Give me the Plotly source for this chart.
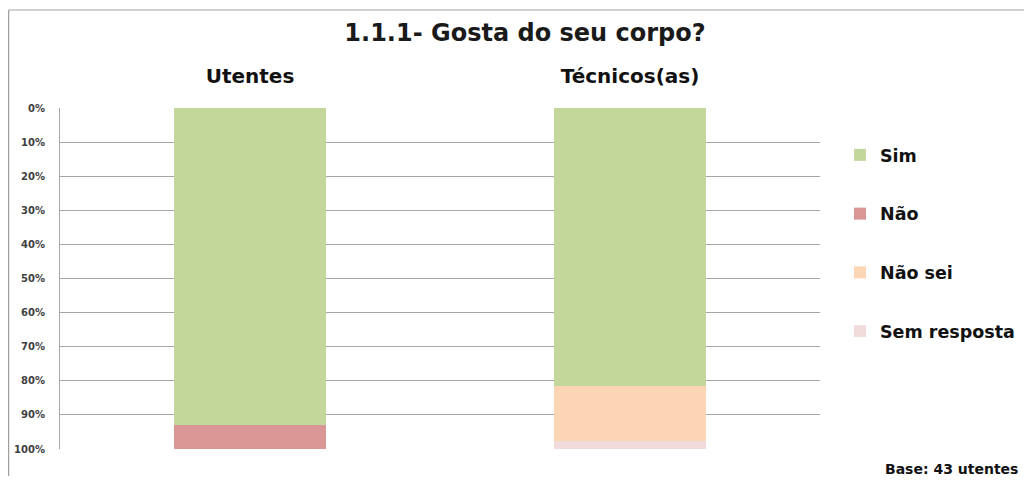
import plotly.graph_objects as go

categories = ["Utentes", "Técnicos(as)"]
series_names = ["Sim", "Não", "Não sei", "Sem resposta"]
sim = [93.0, 81.4]
nao = [7.0, 0.0]
nao_sei = [0.0, 16.3]
sem_resposta = [0.0, 2.3]
y_ticks = [0, 10, 20, 30, 40, 50, 60, 70, 80, 90, 100]
y_tick_labels = [f"{t}%" for t in y_ticks]
colors = ["#C4D79B", "#DA9694", "#FCD5B4", "#F2DCDB"]

# page has an 8px body margin; figure coordinates = page coordinates - 8
OFF = 8
W, H = 1016, 468
ML, MT = 60 - OFF, 108 - OFF
MR = W - (820 - OFF)
MB = H - (449 - OFF)
PW, PH = W - ML - MR, H - MT - MB

FONT = "DejaVu Sans, sans-serif"

fig = go.Figure()
for name, vals, col in zip(series_names, [sim, nao, nao_sei, sem_resposta], colors):
    fig.add_trace(go.Bar(
        x=categories, y=vals, name=f"<b>{name}</b>", marker_color=col,
        marker_line_width=0, width=0.4, legendgroup=name,
        hovertemplate=name + ": %{y}%<extra></extra>",
    ))

def px_x(px):
    return (px - OFF - ML) / PW

def px_y(py):
    return (H - MB - (py - OFF)) / PH

fig.update_layout(
    width=W, height=H,
    margin=dict(l=ML, r=MR, t=MT, b=MB, autoexpand=False),
    barmode="stack",
    plot_bgcolor="white", paper_bgcolor="white",
    title=dict(text="<b>1.1.1- Gosta do seu corpo?</b>", x=px_x(525), xref="paper",
               xanchor="center", y=1 - (33 - OFF) / H, yanchor="middle",
               font=dict(family=FONT, size=24, color="#1a1a1a")),
    xaxis=dict(side="top", showgrid=False, showline=False, ticks="",
               tickvals=categories, ticktext=[f"<b>{c}</b>" for c in categories],
               tickfont=dict(family=FONT, size=20, color="#111"),
               ticklabelstandoff=20, range=[-0.5, 1.5], automargin=False),
    yaxis=dict(range=[100, 0], tickvals=y_ticks,
               ticktext=[f"<b>{t}</b>" for t in y_tick_labels],
               showgrid=True, gridcolor="#A6A6A6", gridwidth=1,
               showline=True, linecolor="#A6A6A6", linewidth=1, zeroline=False,
               ticks="", ticklabelstandoff=12, automargin=False,
               tickfont=dict(family=FONT, size=10, color="#404040")),
    legend=dict(x=px_x(840), y=px_y(137), xanchor="left", yanchor="top",
                traceorder="grouped", tracegroupgap=33,
                font=dict(family=FONT, size=17.5, color="#111"),
                itemwidth=30, bgcolor="rgba(0,0,0,0)"),
    showlegend=True,
)

# outer frame lines (left and top)
fig.add_shape(type="line", xref="paper", yref="paper",
              x0=px_x(8.5), x1=px_x(8.5), y0=px_y(10), y1=px_y(484),
              line=dict(color="#A0A0A0", width=1.5))
fig.add_shape(type="line", xref="paper", yref="paper",
              x0=px_x(8.5), x1=px_x(1032), y0=px_y(10), y1=px_y(10),
              line=dict(color="#C0C0C0", width=1.5))

fig.add_annotation(text="<b>Base: 43 utentes</b>", xref="paper", yref="paper",
                   x=px_x(1020), y=px_y(469), xanchor="right", yanchor="middle",
                   showarrow=False,
                   font=dict(family=FONT, size=14, color="#111"))

fig.write_html("out.html")
